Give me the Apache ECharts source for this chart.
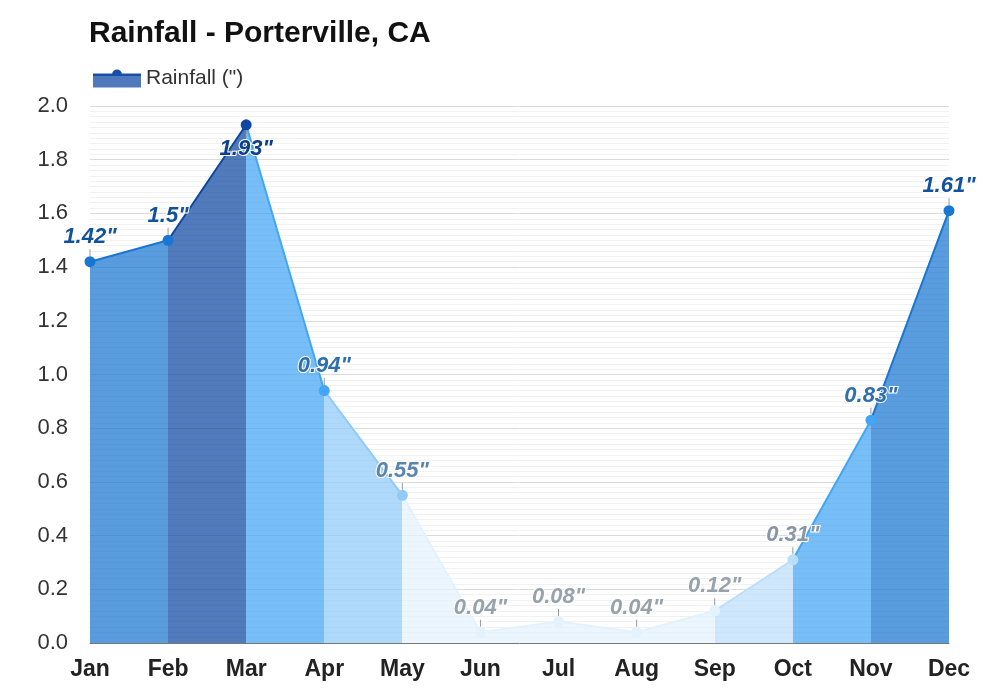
<!DOCTYPE html>
<html>
<head>
<meta charset="utf-8">
<script src="https://cdn.jsdelivr.net/npm/echarts@6/dist/echarts.min.js"></script>
<style>
  html, body { margin: 0; padding: 0; background: #fff; }
  #main { width: 1000px; height: 700px; }
</style>
</head>
<body>
<div id="main"></div>
<script>
// monthly rainfall (inches)
var months = ['Jan', 'Feb', 'Mar', 'Apr', 'May', 'Jun', 'Jul', 'Aug', 'Sep', 'Oct', 'Nov', 'Dec'];
var rainfall = [1.42, 1.5, 1.93, 0.94, 0.55, 0.04, 0.08, 0.04, 0.12, 0.31, 0.83, 1.61];
var yTicks = [0, 0.2, 0.4, 0.6, 0.8, 1.0, 1.2, 1.4, 1.6, 1.8, 2.0];

// colour by amount of rain
function pointColor(v) {
  if (v >= 1.8) return '#0d47a1';
  if (v >= 1.0) return '#1976d2';
  if (v >= 0.6) return '#42a5f5';
  if (v >= 0.4) return '#90caf9';
  if (v >= 0.2) return '#bbdefb';
  return '#e3f2fd';
}
function labelColor(v) {
  if (v >= 1.8) return '#0d3f90';
  if (v >= 1.0) return '#12519c';
  if (v >= 0.6) return '#2f6fae';
  if (v >= 0.4) return '#5a86ae';
  if (v >= 0.2) return '#8797a8';
  return '#98a2ad';
}

var yMax = yTicks[yTicks.length - 1];
var FONT = "'Liberation Sans', Arial, sans-serif";
var myChart = echarts.init(document.getElementById('main'));

// each segment takes the colour of the month on its right
var pieces = rainfall.map(function (v, i) {
  return { gt: i - 1, lte: i, color: pointColor(v) };
});

// labels too close to the top go under the point
var seriesData = rainfall.map(function (v) {
  var item = { value: v, label: { color: labelColor(v) } };
  if (v > yMax - 0.12) {
    item.label.position = 'bottom';
    item.label.distance = 0;
  }
  return item;
});

var option = {
  backgroundColor: '#fff',
  textStyle: { fontFamily: FONT },
  title: {
    text: 'Rainfall - Porterville, CA',
    left: 84,
    top: 14,
    textStyle: { fontSize: 30, fontWeight: 'bold', color: '#111', fontFamily: FONT }
  },
  legend: {
    left: 88,
    top: 63,
    itemWidth: 48,
    itemHeight: 18,
    itemGap: 8,
    icon: 'path://M0,4 L48,4 L48,6 L0,6 Z M19,5 A5,5 0 1 1 29,5 A5,5 0 1 1 19,5 Z M0,5.5 L48,5.5 L48,18 L0,18 Z',
    itemStyle: {
      color: new echarts.graphic.LinearGradient(0, 0, 0, 1, [
        { offset: 0, color: '#1a4fa8' },
        { offset: 0.34, color: '#1a4fa8' },
        { offset: 0.34, color: '#5079bd' },
        { offset: 1, color: '#5079bd' }
      ])
    },
    textStyle: { fontSize: 21, color: '#333', fontFamily: FONT },
    data: ['Rainfall (")']
  },
  grid: { left: 90, right: 51, top: 106, bottom: 57 },
  visualMap: {
    type: 'piecewise',
    show: false,
    dimension: 0,
    seriesIndex: 0,
    pieces: pieces
  },
  xAxis: {
    type: 'category',
    data: months,
    boundaryGap: false,
    axisTick: { show: false },
    axisLine: { lineStyle: { color: '#777', width: 1 } },
    axisLabel: { fontSize: 23, fontWeight: 'bold', color: '#222', margin: 15 },
    splitLine: { show: false }
  },
  yAxis: {
    type: 'value',
    min: yTicks[0],
    max: yMax,
    interval: 0.2,
    axisLine: { show: false },
    axisTick: { show: false },
    axisLabel: {
      fontSize: 22,
      color: '#333',
      margin: 22,
      formatter: function (v) { return v.toFixed(1); }
    },
    splitLine: { lineStyle: { color: '#dcdcdc', width: 1 } },
    minorTick: { show: false, splitNumber: 10 },
    minorSplitLine: { show: true, lineStyle: { color: '#f1f1f1', width: 1 } }
  },
  series: [
    {
      name: 'Rainfall (")',
      type: 'line',
      data: seriesData,
      symbol: 'circle',
      symbolSize: 11,
      lineStyle: { width: 2 },
      areaStyle: { opacity: 0.72 },
      label: {
        show: true,
        position: 'top',
        distance: 2,
        formatter: '{c}"',
        fontSize: 22,
        fontStyle: 'italic',
        fontWeight: 'bold',
        textBorderColor: '#fff',
        textBorderWidth: 2
      },
      labelLayout: function (params) {
        return rainfall[params.dataIndex] > yMax - 0.12 ? { dy: 8 } : { dy: -6 };
      },
      labelLine: { show: true, lineStyle: { color: '#999', width: 1 } },
      emphasis: { disabled: true }
    }
  ]
};

myChart.setOption(option);
</script>
</body>
</html>
